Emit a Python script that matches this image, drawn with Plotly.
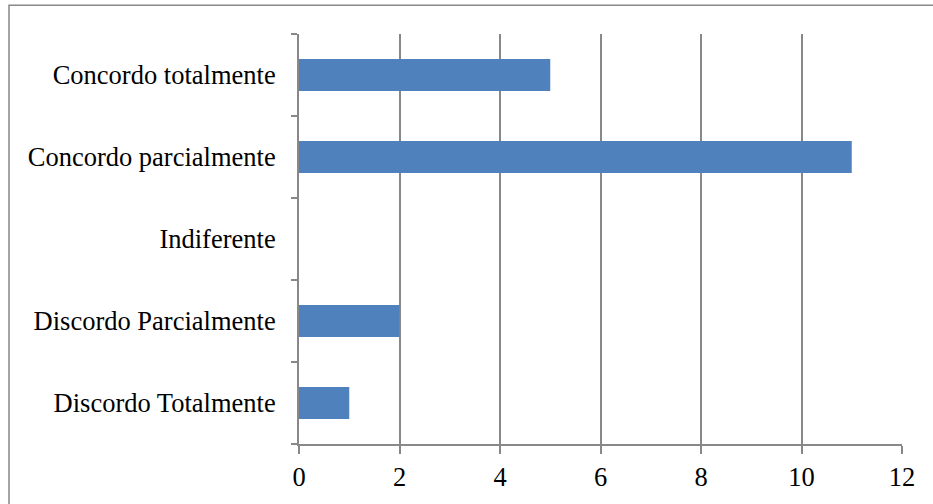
import plotly.graph_objects as go

categories = ["Discordo Totalmente", "Discordo Parcialmente", "Indiferente",
              "Concordo parcialmente", "Concordo totalmente"]
values = [1, 2, 0, 11, 5]
x_ticks = [0, 2, 4, 6, 8, 10, 12]

W, H = 933, 504
L, R, T, B = 299, 31, 34, 58
pw, ph = W - L - R, H - T - B

fig = go.Figure(go.Bar(
    y=categories, x=values, orientation="h",
    marker=dict(color="#4F81BD", line=dict(width=0)),
))

grey = "#888888"
font = dict(family="Liberation Serif, Times New Roman, serif", size=26.5, color="#000000")

fig.update_layout(
    width=W, height=H,
    margin=dict(l=L, r=R, t=T, b=B),
    paper_bgcolor="white", plot_bgcolor="white",
    bargap=0.61,
    showlegend=False,
    font=font,
    xaxis=dict(range=[0, 12], tickvals=x_ticks, showgrid=True, gridcolor=grey, gridwidth=2,
               showline=True, linecolor=grey, linewidth=2, ticks="outside", ticklen=8,
               tickcolor=grey, tickwidth=2, zeroline=False, tickfont=font, fixedrange=True),
    yaxis=dict(type="category", categoryorder="array", categoryarray=categories,
               showgrid=False, showline=True, linecolor=grey, linewidth=2,
               ticks="outside", ticklen=6, tickcolor=grey, tickwidth=2,
               tickson="boundaries", ticklabelstandoff=16, tickfont=font, fixedrange=True),
    shapes=[dict(type="rect", xref="paper", yref="paper",
                 x0=(9 - L) / pw, x1=2, y0=-1, y1=(H - B - 5) / ph,
                 line=dict(color=grey, width=1.5), layer="below")],
)

fig.write_html("out.html")
